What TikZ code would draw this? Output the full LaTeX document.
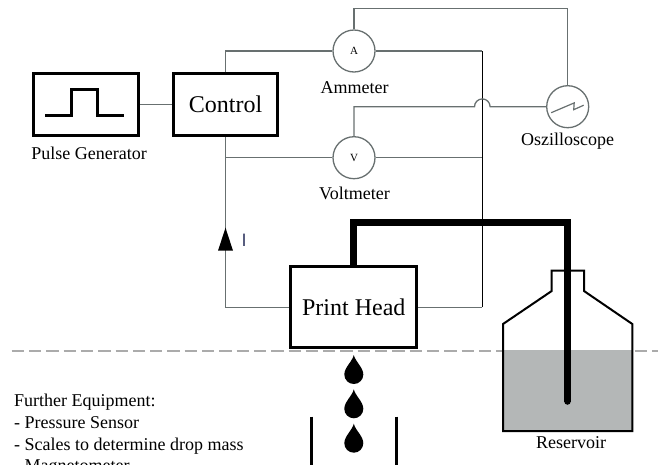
\documentclass[tikz,border=0pt]{standalone}
\usepackage{fontspec}
\setmainfont{Liberation Serif}
\newfontfamily\labelsans{Liberation Sans}
\usetikzlibrary{calc}
\definecolor{wiregray}{HTML}{687070}
\definecolor{inkgray}{HTML}{B4B7B7}
\definecolor{cutgray}{HTML}{ABABAB}
\definecolor{currentink}{HTML}{3A4068}
\begin{document}
\begin{tikzpicture}[x=1pt,y=-1pt,
  wire/.style={draw=wiregray, line width=1.3pt},
  rail/.style={draw=black, line width=1.2pt},
  unit/.style={rectangle, draw=black, line width=3pt, fill=white, inner sep=0pt},
  meter/.style={circle, draw=wiregray, line width=1.3pt, fill=white, minimum size=42pt,
    inner sep=0pt, font=\fontsize{11}{13}\selectfont},
  caption/.style={anchor=base, inner sep=0pt, font=\fontsize{18}{21}\selectfont},
  listline/.style={anchor=base west, inner sep=0pt, font=\fontsize{18}{21}\selectfont},
  tube/.style={draw=black, line width=6.5pt},
  pics/droplet/.style={code={
    \fill[black] (0,-19.5) .. controls (1.5,-13) and (9.5,-7) .. (9.5,0)
      .. controls (9.5,5.25) and (5.25,9.5) .. (0,9.5)
      .. controls (-5.25,9.5) and (-9.5,5.25) .. (-9.5,0)
      .. controls (-9.5,-7) and (-1.5,-13) .. (0,-19.5) -- cycle;
  }},
]
\useasboundingbox (0,0) rectangle (658,464);
\clip (0,0) rectangle (658,464);

% level line through print head and reservoir
\draw[cutgray, line width=2pt, dash pattern=on 12.3pt off 5pt] (11.7,350.5) -- (658,350.5);

% reservoir: liquid, bottle outline
\fill[inkgray] (503,350) rectangle (632.3,431);
\draw[line width=2pt, line join=miter]
  (551.7,291) -- (551.7,270.5) -- (584,270.5) -- (584,291) -- (632.3,324)
  -- (632.3,431) -- (503,431) -- (503,324) -- cycle;

% supply tube from reservoir to print head
\draw[tube, line join=miter] (353.6,290) -- (353.6,222.3) -- (567.5,222.3) -- (567.5,401.5);
\fill[black] (567.5,401.5) circle (3.25);

% units
\node[unit, minimum width=104.7pt, minimum height=61.4pt] (pg) at (86.2,104.5) {};
\draw[line width=3pt, line join=miter]
  (45,115.7) -- (71,115.7) -- (71,89) -- (97.8,89) -- (97.8,115.7) -- (124,115.7);
\node[unit, minimum width=104.6pt, minimum height=61.4pt, font=\fontsize{24}{28}\selectfont]
  (ctrl) at (225.5,104.5) {Control};
\node[unit, minimum width=126pt, minimum height=81.5pt, font=\fontsize{24}{28}\selectfont]
  (ph) at (353.8,307.2) {Print Head};

% meters
\node[meter] (amm) at (354,51) {A};
\node[meter] (volt) at (354,157.7) {V};
\node[meter] (osc) at (567.7,106.7) {};
\draw[wiregray, line width=1.2pt, shift={(osc)}]
  (-16.5,6) -- (6.5,-3.8) -- (6,3) -- (16,-1.5);

% labels
\node[caption] (pglabel) at (89.2,159) {Pulse Generator};
\node[caption] (ammlabel) at (354.7,93.5) {Ammeter};
\node[caption] (voltlabel) at (354.5,199.5) {Voltmeter};
\node[caption] (osclabel) at (567.5,145) {Oszilloscope};
\node[caption] (reslabel) at (571,448.3) {Reservoir};

% helper coordinates for the wiring
\coordinate (topbus) at (0,8.3);
\coordinate (railx) at (482.3,0);
\coordinate (hop) at (osc.west -| railx);

% wiring
\draw[wire] (pg.east) -- (ctrl.west);
\draw[wire] (ctrl.north) |- (amm.west);
\draw[wire] (amm.north) -- (amm.north |- topbus) -| (osc.north);
\draw[wire] (amm.east) -- (amm.east -| railx);
\draw[rail] (amm.east -| railx) -- (ph.east -| railx);
\draw[wire] (ph.east -| railx) -- (ph.east);
\draw[wire] (volt.east) -- (volt.east -| railx);
\draw[wire] (volt.north) |- ($(hop)+(-7.8,0)$)
  .. controls +(0,-4.3) and +(-4.3,0) .. ($(hop)+(0,-7.8)$)
  .. controls +(4.3,0) and +(0,-4.3) .. ($(hop)+(7.8,0)$) -- (osc.west);
\draw[wire] (ph.west) -| (ctrl.south);
\draw[wire] (volt.west) -- (volt.west -| ctrl.south);

% current direction
\coordinate (itip) at (225.5,227.7);
\fill[black] (itip) -- ++(7.5,23) -- ++(-15,0) -- cycle;
\node[anchor=base, inner sep=0pt, text=currentink, font=\labelsans\fontsize{18}{20}\selectfont]
  (ilabel) at (244,246.7) {I};

% drops and collecting vessel
\foreach \yb in {374.5,408.8,443.2} {
  \pic at (353.8,\yb) {droplet};
}
\draw[line width=3pt] (311.7,416.7) -- (311.7,470);
\draw[line width=3pt] (396.7,416.7) -- (396.7,470);

% further equipment list
\node[listline] (eq1) at (14,406.7) {Further Equipment:};
\node[listline] (eq2) at (14,428.3) {- Pressure Sensor};
\node[listline] (eq3) at (14,450) {- Scales to determine drop mass};
\node[listline] (eq4) at (14,471.6) {- Magnetometer};
\end{tikzpicture}
\end{document}
